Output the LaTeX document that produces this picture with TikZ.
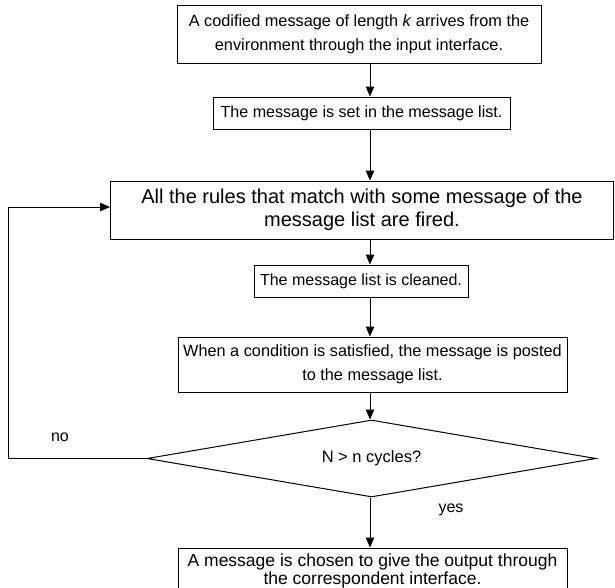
\documentclass[tikz,border=0pt]{standalone}
\usepackage{fontspec}
\setmainfont{Liberation Sans}
\usetikzlibrary{arrows.meta,shapes.geometric}
\newcommand{\fs}[2]{\fontsize{#1}{#2}\selectfont}
\begin{document}
\begin{tikzpicture}[x=1pt,y=-1pt,
  box/.style={draw,line width=1pt,align=center,inner sep=0pt,font=\fs{16.3}{23.5}},
  decision/.style={draw,diamond,line width=1pt,inner sep=0pt,aspect=5,font=\fs{16.5}{20}},
  lbl/.style={font=\fs{16}{20}},
  flow/.style={-{Triangle[length=10pt,width=8.5pt]},line width=1pt}]
\useasboundingbox (0,0) rectangle (615,587);

% process steps
\node[box,minimum width=364pt,minimum height=58pt] (b1) at (359,34.5)
  {A codified message of length \textit{k} arrives from the\\environment through the input interface.};
\node[box,font=\fs{16.1}{20},minimum width=297pt,minimum height=32pt] (b2) at (361.5,113)
  {The message is set in the message list.};
\node[box,font=\fs{20}{23.5},minimum width=503pt,minimum height=58pt] (b3) at (362,210)
  {All the rules that match with some message of the\\message list are fired.};
\node[box,font=\fs{16}{20},minimum width=214pt,minimum height=32pt] (b4) at (361,281)
  {The message list is cleaned.};
\node[box,minimum width=389pt,minimum height=55pt] (b5) at (372.5,364.5)
  {When a condition is satisfied, the message is posted\\to the message list.};
\node[decision,minimum width=449pt,minimum height=77pt] (d) at (371.5,458.5)
  {N > n cycles?};
\node[box,font=\fs{17.5}{18.5},minimum width=389pt,minimum height=46pt] (b6) at (372.5,571)
  {A message is chosen to give the output through\\the correspondent interface.};

% vertical spine of the main flow and the return path
\coordinate (spine) at (370,0);
\coordinate (back) at (8,0);

\draw[flow] (b1.south -| spine) -- (b2.north -| spine);
\draw[flow] (b2.south -| spine) -- (b3.north -| spine);
\draw[flow] (b3.south -| spine) -- (b4.north -| spine);
\draw[flow] (b4.south -| spine) -- (b5.north -| spine);
\draw[flow] (b5.south -| spine) -- (d.north -| spine);
\draw[flow] (d.south -| spine) -- (b6.north -| spine);
\draw[flow] (d.west) -- (d.west -| back) |- ([yshift=3pt]b3.west);

% branch labels
\node[lbl] (no) at (60,437) {no};
\node[lbl] (yes) at (451,510) {yes};
\end{tikzpicture}
\end{document}
